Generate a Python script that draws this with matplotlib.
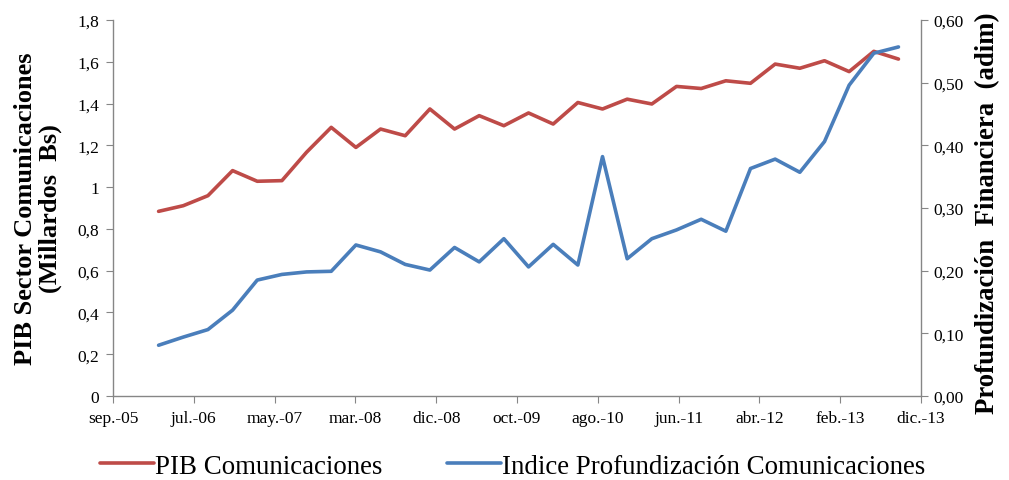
import matplotlib
matplotlib.use("Agg")
import matplotlib.pyplot as plt
import matplotlib.dates as mdates
import numpy as np
import pandas as pd

# ---- data ----
dates = pd.date_range(start="2006-02-18", end="2013-09-08", periods=31)
pib = [0.884, 0.911, 0.959, 1.079, 1.028, 1.031, 1.167, 1.286, 1.190, 1.278,
       1.246, 1.374, 1.278, 1.342, 1.294, 1.355, 1.302, 1.405, 1.374, 1.421,
       1.398, 1.482, 1.472, 1.509, 1.497, 1.589, 1.569, 1.605, 1.553, 1.650,
       1.613]
indice = [0.081, 0.094, 0.106, 0.137, 0.185, 0.194, 0.198, 0.199, 0.241, 0.230,
          0.210, 0.201, 0.237, 0.214, 0.251, 0.206, 0.242, 0.209, 0.382, 0.219,
          0.251, 0.265, 0.282, 0.263, 0.363, 0.378, 0.357, 0.406, 0.496, 0.547,
          0.557]
x_tick_labels = ["sep.-05", "jul.-06", "may.-07", "mar.-08", "dic.-08", "oct.-09",
                 "ago.-10", "jun.-11", "abr.-12", "feb.-13", "dic.-13"]
left_ticks = [0, 0.2, 0.4, 0.6, 0.8, 1.0, 1.2, 1.4, 1.6, 1.8]
left_tick_labels = ["0", "0,2", "0,4", "0,6", "0,8", "1", "1,2", "1,4", "1,6", "1,8"]
right_ticks = [0, 0.1, 0.2, 0.3, 0.4, 0.5, 0.6]
right_tick_labels = ["0,00", "0,10", "0,20", "0,30", "0,40", "0,50", "0,60"]
label_pib = "PIB Comunicaciones"
label_ind = "Indice Profundización Comunicaciones"

plt.rcParams["font.family"] = ["Liberation Serif", "DejaVu Serif"]

RED = "#BE4B48"
BLUE = "#4A7EBB"
SPINE = "#868686"

fig = plt.figure(figsize=(10.09, 4.81), dpi=100)
ax = fig.add_axes([113 / 1009, 84 / 481, 808 / 1009, 376 / 481])
ax2 = ax.twinx()

l1, = ax.plot(dates, pib, color=RED, lw=2.6, solid_capstyle="round",
              solid_joinstyle="round", label=label_pib)
l2, = ax2.plot(dates, indice, color=BLUE, lw=2.6, solid_capstyle="round",
               solid_joinstyle="round", label=label_ind)

start = mdates.date2num(pd.Timestamp("2005-09-01"))
end = mdates.date2num(pd.Timestamp("2013-12-01"))
ax.set_xlim(start, end)
ax.set_xticks(np.linspace(start, end, len(x_tick_labels)))
ax.set_xticklabels(x_tick_labels)

ax.set_ylim(0, 1.8)
ax.set_yticks(left_ticks)
ax.set_yticklabels(left_tick_labels)
ax2.set_ylim(0, 0.6)
ax2.set_yticks(right_ticks)
ax2.set_yticklabels(right_tick_labels)

for a in (ax, ax2):
    a.spines["top"].set_visible(False)
    for s in ("left", "right", "bottom"):
        a.spines[s].set_color(SPINE)
        a.spines[s].set_linewidth(1.0)
ax2.spines["left"].set_visible(False)
ax2.spines["bottom"].set_visible(False)
ax.spines["right"].set_visible(False)

ax.tick_params(axis="x", direction="out", length=5, color=SPINE, labelsize=12.5, pad=5)
ax.tick_params(axis="y", direction="out", length=5, color=SPINE, labelsize=12.5, pad=5)
ax2.tick_params(axis="y", direction="out", length=5, color=SPINE, labelsize=12.5, pad=4)

ax.set_ylabel("PIB Sector Comunicaciones\n(Millardos  Bs)", fontsize=19,
              fontweight="bold", linespacing=1.1)
ax.yaxis.set_label_coords(-0.063, 0.5)
ax2.set_ylabel("Profundización  Financiera  (adim)", fontsize=19.3, fontweight="bold")
ax2.yaxis.set_label_coords(1.067, 0.488)

fig.legend(handles=[l1, l2], loc="center", bbox_to_anchor=(0.508, 0.029), ncol=2,
           frameon=False, fontsize=19.4, handlelength=2.0, handletextpad=0.05,
           columnspacing=2.4, borderaxespad=0)

fig.savefig("out.png", dpi=100)
